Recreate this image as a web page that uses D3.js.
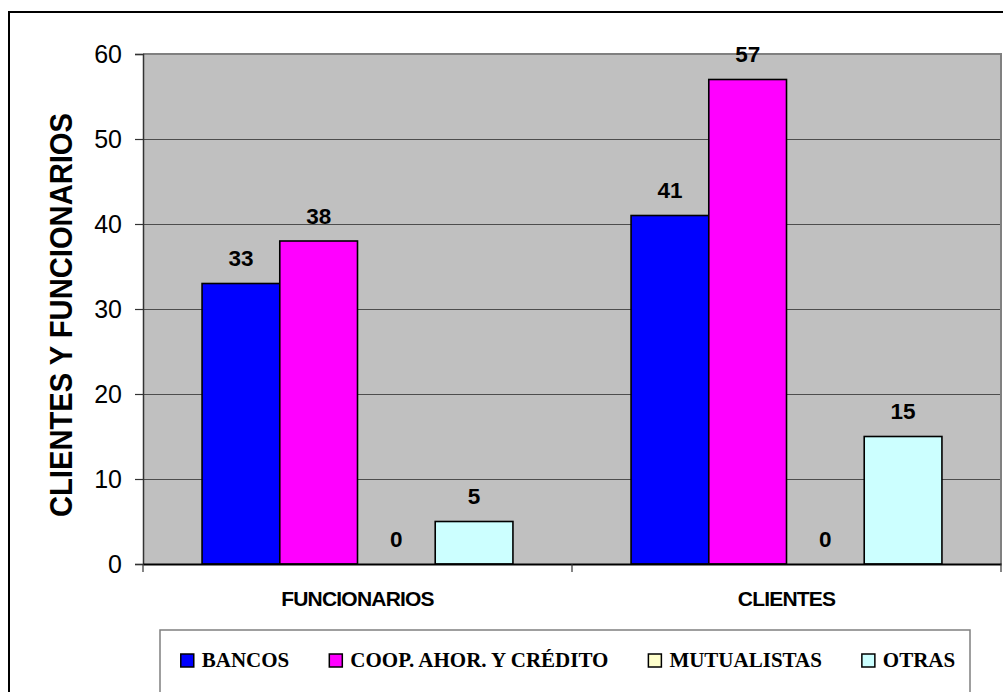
<!DOCTYPE html>
<html>
<head>
<meta charset="utf-8">
<script src="https://cdn.jsdelivr.net/npm/d3@7"></script>
<style>
  html, body { margin: 0; padding: 0; background: #fff; }
  svg { display: block; }
</style>
</head>
<body>
<svg id="chart" width="1003" height="692"></svg>
<script>
// Groups on the x axis and the four institution types
const categories = ["FUNCIONARIOS", "CLIENTES"];
const seriesNames = ["BANCOS", "COOP. AHOR. Y CRÉDITO", "MUTUALISTAS", "OTRAS"];
const seriesColors = ["#0000FF", "#FF00FF", "#FFFFCC", "#CCFFFF"];

// Counts per series, one value per category
const bancos = [33, 41];
const coop = [38, 57];
const mutualistas = [0, 0];
const otras = [5, 15];

const yTicks = [0, 10, 20, 30, 40, 50, 60];
const yTitle = "CLIENTES Y FUNCIONARIOS";

const seriesValues = [bancos, coop, mutualistas, otras];

const svg = d3.select("#chart");

// Outer frame of the chart
svg.append("path")
  .attr("d", "M9,700 L9,12 L1010,12")
  .attr("fill", "none")
  .attr("stroke", "#000")
  .attr("stroke-width", 2);

const plot = { left: 143, right: 1001, top: 54, bottom: 564 };

const x = d3.scaleBand()
  .domain(categories)
  .range([plot.left, plot.right])
  .padding(0);

const xInner = d3.scaleBand()
  .domain(seriesNames)
  .range([0, x.bandwidth()])
  .paddingInner(0)
  .paddingOuter(0.76);

const y = d3.scaleLinear()
  .domain([0, 60])
  .range([plot.bottom, plot.top]);

// Plot background
svg.append("rect")
  .attr("x", plot.left)
  .attr("y", plot.top)
  .attr("width", plot.right - plot.left)
  .attr("height", plot.bottom - plot.top)
  .attr("fill", "#C0C0C0");

// Horizontal gridlines
svg.append("g")
  .selectAll("line")
  .data(yTicks.filter(t => t > 0 && t < 60))
  .join("line")
  .attr("x1", plot.left)
  .attr("x2", plot.right)
  .attr("y1", d => Math.round(y(d)) + 0.5)
  .attr("y2", d => Math.round(y(d)) + 0.5)
  .attr("stroke", "#4d4d4d")
  .attr("stroke-width", 1);

// Top and right edges of the plot area
svg.append("path")
  .attr("d", `M${plot.left},${plot.top} L${plot.right},${plot.top} L${plot.right},${plot.bottom}`)
  .attr("fill", "none")
  .attr("stroke", "#808080")
  .attr("stroke-width", 2);

// Bars
const rows = [];
categories.forEach((c, ci) => {
  seriesNames.forEach((s, si) => {
    rows.push({ category: c, series: s, value: seriesValues[si][ci], color: seriesColors[si] });
  });
});

const bars = svg.append("g");
bars.selectAll("rect")
  .data(rows.filter(d => d.value > 0))
  .join("rect")
  .attr("x", d => x(d.category) + xInner(d.series))
  .attr("y", d => y(d.value))
  .attr("width", xInner.bandwidth())
  .attr("height", d => y(0) - y(d.value))
  .attr("fill", d => d.color)
  .attr("stroke", "#000")
  .attr("stroke-width", 1.6);

// Value labels
svg.append("g")
  .selectAll("text")
  .data(rows)
  .join("text")
  .attr("x", d => x(d.category) + xInner(d.series) + xInner.bandwidth() / 2)
  .attr("y", d => y(d.value) - 17.5)
  .attr("text-anchor", "middle")
  .attr("font-family", "Arial, 'Liberation Sans', sans-serif")
  .attr("font-weight", "bold")
  .attr("font-size", 22.5)
  .attr("fill", "#000")
  .text(d => d.value);

// Y axis
const yAxis = d3.axisLeft(y)
  .tickValues(yTicks)
  .tickSize(8)
  .tickPadding(13)
  .tickFormat(d3.format("d"));

const yg = svg.append("g")
  .attr("transform", `translate(${plot.left},0)`)
  .call(yAxis);
yg.select(".domain").attr("stroke", "#333").attr("stroke-width", 1.5);
yg.selectAll(".tick line").attr("stroke", "#333").attr("stroke-width", 1.2);
yg.selectAll(".tick text")
  .attr("font-family", "Arial, 'Liberation Sans', sans-serif")
  .attr("font-size", 25)
  .attr("fill", "#000");

// X axis
const xAxis = d3.axisBottom(x)
  .tickValues([])
  .tickSizeOuter(0);
const xg = svg.append("g")
  .attr("transform", `translate(0,${plot.bottom})`)
  .call(xAxis);
xg.select(".domain").attr("stroke", "#000").attr("stroke-width", 1.8);

// Tick marks between category groups
const boundaries = [plot.left, ...categories.slice(1).map(c => x(c)), plot.right];
xg.selectAll("line.sep")
  .data(boundaries)
  .join("line")
  .attr("class", "sep")
  .attr("x1", d => d)
  .attr("x2", d => d)
  .attr("y1", 0)
  .attr("y2", 8)
  .attr("stroke", "#333")
  .attr("stroke-width", 1.2);

// Category labels
svg.append("g")
  .selectAll("text")
  .data(categories)
  .join("text")
  .attr("x", d => x(d) + x.bandwidth() / 2)
  .attr("y", 606)
  .attr("text-anchor", "middle")
  .attr("font-family", "Arial, 'Liberation Sans', sans-serif")
  .attr("font-weight", "bold")
  .attr("font-size", 21)
  .attr("letter-spacing", -0.8)
  .attr("fill", "#000")
  .text(d => d);

// Y axis title
svg.append("text")
  .attr("transform", "translate(72,315) rotate(-90)")
  .attr("text-anchor", "middle")
  .attr("font-family", "Arial, 'Liberation Sans', sans-serif")
  .attr("font-weight", "bold")
  .attr("font-size", 32)
  .attr("textLength", 404)
  .attr("lengthAdjust", "spacingAndGlyphs")
  .attr("fill", "#000")
  .text(yTitle);

// Legend
const legendBox = { left: 160, right: 970, top: 630 };
svg.append("path")
  .attr("d", `M${legendBox.left},700 L${legendBox.left},${legendBox.top} L${legendBox.right},${legendBox.top} L${legendBox.right},700`)
  .attr("fill", "#fff")
  .attr("stroke", "#808080")
  .attr("stroke-width", 1.5);

const legend = svg.append("g");
const items = legend.selectAll("g")
  .data(seriesNames)
  .join("g");

items.append("rect")
  .attr("width", 13)
  .attr("height", 13)
  .attr("y", 654)
  .attr("fill", (d, i) => seriesColors[i])
  .attr("stroke", "#000")
  .attr("stroke-width", 1.5);

items.append("text")
  .attr("y", 667)
  .attr("font-family", "'Times New Roman', 'Liberation Serif', serif")
  .attr("font-weight", "bold")
  .attr("font-size", 21)
  .attr("fill", "#000")
  .text(d => d);

// Lay legend entries out left to right, centred in the box
const markerW = 13, markerGap = 8, itemGap = 40;
const widths = [];
items.select("text").each(function () { widths.push(this.getComputedTextLength()); });
const total = d3.sum(widths) + seriesNames.length * (markerW + markerGap) + (seriesNames.length - 1) * itemGap;
let cursor = (legendBox.left + legendBox.right) / 2 - total / 2 + 3;
items.each(function (d, i) {
  const g = d3.select(this);
  g.select("rect").attr("x", cursor);
  g.select("text").attr("x", cursor + markerW + markerGap);
  cursor += markerW + markerGap + widths[i] + itemGap;
});
</script>
</body>
</html>
